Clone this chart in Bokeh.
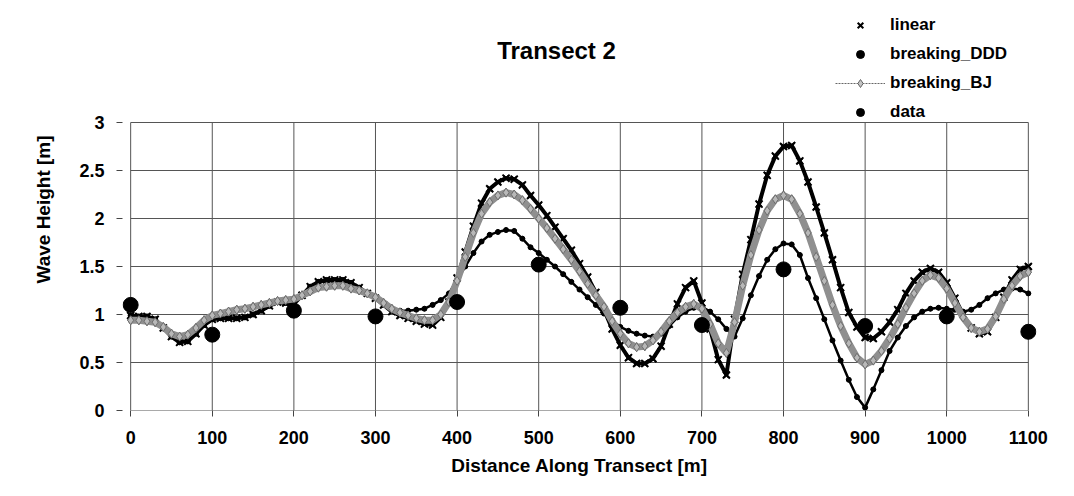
from bokeh.plotting import figure
from bokeh.models import Range1d, FixedTicker, CustomJSTickFormatter, Legend, LegendItem, Label
from bokeh.embed import file_html
from bokeh.resources import INLINE

FONT = "Liberation Sans"

# ---------------- data ----------------
distance = list(range(0, 1101, 10))

linear = [0.99, 0.98, 0.98, 0.95, 0.86, 0.77, 0.71, 0.72, 0.80, 0.89,
          0.95, 0.96, 0.96, 0.96, 0.97, 1.00, 1.04, 1.09, 1.13, 1.12,
          1.11, 1.20, 1.29, 1.34, 1.36, 1.36, 1.36, 1.33, 1.28, 1.22,
          1.17, 1.10, 1.03, 0.99, 0.96, 0.93, 0.90, 0.89, 0.97, 1.13,
          1.38, 1.65, 1.92, 2.16, 2.31, 2.38, 2.42, 2.41, 2.35, 2.24,
          2.14, 2.03, 1.91, 1.79, 1.67, 1.53, 1.39, 1.23, 1.05, 0.85,
          0.68, 0.55, 0.49, 0.49, 0.54, 0.67, 0.90, 1.11, 1.28, 1.35,
          1.12, 0.85, 0.53, 0.37, 0.95, 1.42, 1.78, 2.15, 2.45, 2.65,
          2.75, 2.76, 2.60, 2.38, 2.12, 1.85, 1.57, 1.28, 1.02, 0.87,
          0.76, 0.75, 0.82, 0.92, 1.05, 1.22, 1.35, 1.44, 1.48, 1.44,
          1.33, 1.17, 1.00, 0.86, 0.80, 0.82, 0.97, 1.18, 1.36, 1.47,
          1.50]

breaking_ddd = [0.99, 0.98, 0.98, 0.95, 0.86, 0.77, 0.71, 0.72, 0.80, 0.89,
                0.95, 0.96, 0.96, 0.96, 0.97, 1.00, 1.04, 1.09, 1.13, 1.12,
                1.11, 1.20, 1.29, 1.34, 1.36, 1.36, 1.36, 1.33, 1.28, 1.22,
                1.17, 1.10, 1.06, 1.04, 1.04, 1.05, 1.06, 1.10, 1.15, 1.22,
                1.36, 1.50, 1.64, 1.76, 1.83, 1.86, 1.88, 1.87, 1.79, 1.70,
                1.64, 1.57, 1.50, 1.42, 1.34, 1.26, 1.18, 1.10, 1.01, 0.94,
                0.87, 0.83, 0.80, 0.78, 0.77, 0.80, 0.88, 0.97, 1.03, 1.07,
                1.08, 1.03, 0.95, 0.85, 0.77, 0.96, 1.20, 1.40, 1.57, 1.68,
                1.74, 1.73, 1.62, 1.38, 1.17, 0.95, 0.73, 0.52, 0.32, 0.14,
                0.03, 0.22, 0.42, 0.62, 0.76, 0.88, 0.97, 1.03, 1.06, 1.07,
                1.06, 1.05, 1.03, 1.05, 1.10, 1.17, 1.22, 1.26, 1.27, 1.26,
                1.22]

breaking_bj = [0.94, 0.94, 0.93, 0.92, 0.87, 0.80, 0.77, 0.79, 0.86, 0.94,
               0.99, 1.01, 1.03, 1.05, 1.06, 1.08, 1.10, 1.12, 1.14, 1.15,
               1.16, 1.20, 1.24, 1.28, 1.29, 1.30, 1.30, 1.27, 1.25, 1.22,
               1.18, 1.12, 1.06, 1.02, 0.99, 0.96, 0.94, 0.94, 1.00, 1.13,
               1.35, 1.60, 1.85, 2.05, 2.17, 2.24, 2.27, 2.25, 2.19, 2.10,
               2.00, 1.90, 1.79, 1.68, 1.57, 1.45, 1.32, 1.20, 1.08, 0.93,
               0.80, 0.70, 0.66, 0.67, 0.73, 0.82, 0.93, 1.02, 1.08, 1.11,
               1.06, 0.90, 0.70, 0.60, 0.92, 1.30, 1.62, 1.88, 2.08, 2.20,
               2.24, 2.20, 2.05, 1.85, 1.60, 1.35, 1.10, 0.88, 0.70, 0.55,
               0.48, 0.52, 0.62, 0.75, 0.90, 1.07, 1.22, 1.35, 1.41, 1.38,
               1.27, 1.12, 0.97, 0.86, 0.82, 0.85, 0.98, 1.16, 1.30, 1.40,
               1.44]

data_x = [0, 100, 200, 300, 400, 500, 600, 700, 800, 900, 1000, 1100]
data_y = [1.10, 0.79, 1.04, 0.98, 1.13, 1.52, 1.07, 0.89, 1.47, 0.88, 0.98, 0.82]

x_ticks = [0, 100, 200, 300, 400, 500, 600, 700, 800, 900, 1000, 1100]
y_ticks = [0, 0.5, 1, 1.5, 2, 2.5, 3]

series_names = ["linear", "breaking_DDD", "breaking_BJ", "data"]
title_text = "Transect 2"
x_label = "Distance Along Transect [m]"
y_label = "Wave Height [m]"

X_MIN, X_MAX = x_ticks[0], x_ticks[-1]
Y_MIN, Y_MAX = y_ticks[0], y_ticks[-1]

# ---------------- figure ----------------
# the frame reaches up to the top so that title and legend (drawn above the
# plotted area) are not clipped; grid lines are limited to the 0..3 area.
p = figure(width=1058, height=480, output_backend="svg", toolbar_location=None,
           x_range=Range1d(-10, 1110), y_range=Range1d(0, 4.1875),
           min_border_left=122, min_border_right=22,
           min_border_top=8, min_border_bottom=70, title=None)
p.outline_line_color = None
p.background_fill_color = "white"
p.border_fill_color = "white"
p.xgrid.visible = False
p.ygrid.visible = False

for ax in (p.xaxis, p.yaxis):
    ax.axis_line_color = None
    ax.major_tick_out = 6
    ax.major_tick_in = 0
    ax.major_tick_line_color = "#444444"
    ax.minor_tick_line_color = None
    ax.major_label_text_font = FONT
    ax.major_label_text_font_style = "bold"
    ax.major_label_text_font_size = "18px"
    ax.major_label_text_color = "black"
    ax.axis_label_text_font = FONT
    ax.axis_label_text_font_style = "bold"
    ax.axis_label_text_font_size = "19px"
    ax.axis_label_text_color = "black"

p.xaxis.ticker = FixedTicker(ticks=x_ticks)
p.yaxis.ticker = FixedTicker(ticks=y_ticks)
p.xaxis.bounds = (X_MIN, X_MAX)
p.yaxis.bounds = (Y_MIN, Y_MAX)
p.yaxis.formatter = CustomJSTickFormatter(code="return tick.toString();")
p.xaxis.formatter = CustomJSTickFormatter(code="return tick.toString();")
p.xaxis.major_label_standoff = 14
p.yaxis.major_label_standoff = 12
p.xaxis.axis_label = x_label
p.yaxis.axis_label = y_label
p.xaxis.axis_label_standoff = 8
p.yaxis.axis_label_standoff = 22

# grid lines (limited to the plotted area)
GRID = "#555555"
p.segment(x0=x_ticks, y0=[Y_MIN] * len(x_ticks), x1=x_ticks, y1=[Y_MAX] * len(x_ticks),
          line_color=GRID, line_width=1)
p.segment(x0=[X_MIN] * len(y_ticks), y0=y_ticks, x1=[X_MAX] * len(y_ticks), y1=y_ticks,
          line_color=GRID, line_width=1)

# legend-style renderers drawn first (hidden underneath the real marks)
leg_lin = p.scatter(distance, linear, marker="x", size=7, line_color="black", line_width=2)
leg_ddd = p.scatter(distance, breaking_ddd, marker="circle", size=5,
                    fill_color="black", line_color="black")
leg_bj_line = p.line(distance, breaking_bj, line_color="#666666", line_width=1, line_dash="2 1")
leg_bj_pt = p.scatter(distance, breaking_bj, marker="diamond", size=9, fill_color="#c4c4c4",
                      line_color="#666666", line_width=1)
leg_data = p.scatter(data_x, data_y, marker="circle", size=11,
                     fill_color="black", line_color="black")

# linear: dense x markers
p.line(distance, linear, line_color="black", line_width=4)
p.scatter(distance, linear, marker="x", size=10, line_color="black", line_width=2)

# breaking_DDD: dense dots
p.line(distance, breaking_ddd, line_color="black", line_width=2.5)
p.scatter(distance, breaking_ddd, marker="circle", size=4,
          fill_color="black", line_color="black")

# breaking_BJ: grey line with diamonds
p.line(distance, breaking_bj, line_color="#8f8f8f", line_width=7)
p.scatter(distance, breaking_bj, marker="diamond", size=9,
          fill_color="#b8b8b8", line_color="#6e6e6e", line_width=1)

# data
p.scatter(data_x, data_y, marker="circle", size=15,
          fill_color="black", line_color="black")

legend = Legend(items=[
    LegendItem(label=series_names[0], renderers=[leg_lin]),
    LegendItem(label=series_names[1], renderers=[leg_ddd]),
    LegendItem(label=series_names[2], renderers=[leg_bj_line, leg_bj_pt]),
    LegendItem(label=series_names[3], renderers=[leg_data]),
], location=(713, 288))
legend.border_line_color = None
legend.background_fill_alpha = 0
legend.padding = 0
legend.margin = 0
legend.spacing = 9
legend.glyph_height = 20
legend.glyph_width = 50
legend.label_height = 20
legend.label_standoff = 5
legend.label_text_font = FONT
legend.label_text_font_style = "bold"
legend.label_text_font_size = "17px"
legend.label_text_color = "black"
p.add_layout(legend)

title = Label(x=434, y=360, x_units="screen", y_units="screen", text=title_text,
              text_align="center", text_baseline="middle", text_font=FONT,
              text_font_style="bold", text_font_size="24px", text_color="black")
p.add_layout(title)

open("out.html", "w").write(file_html(p, INLINE))
